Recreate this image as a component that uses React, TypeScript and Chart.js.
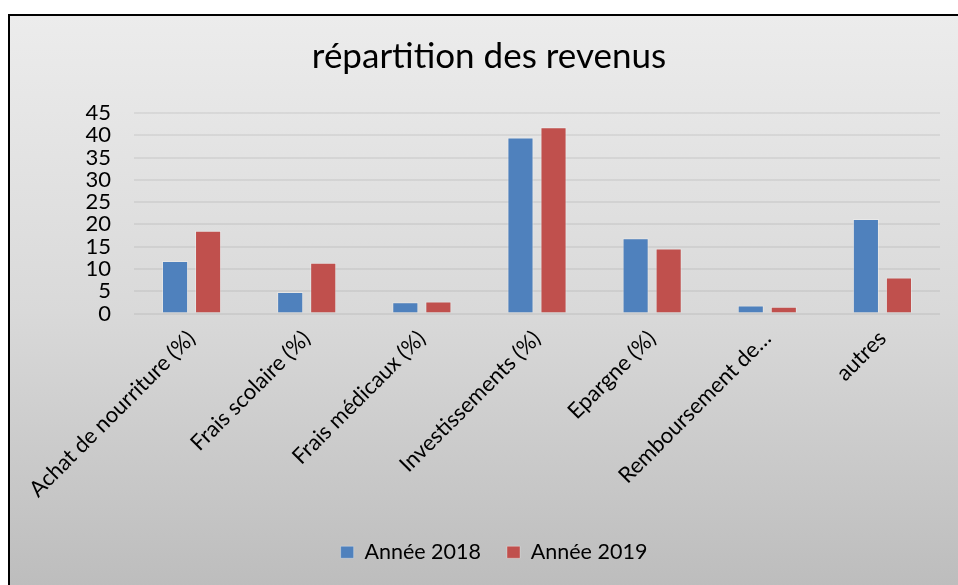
import { useEffect, useRef } from "react";
import { Chart, registerables } from "chart.js";

Chart.register(...registerables);

const categories = [
  "Achat de nourriture (%)",
  "Frais scolaire (%)",
  "Frais médicaux (%)",
  "Investissements (%)",
  "Epargne (%)",
  "Remboursement de…",
  "autres",
];
const annee2018 = [11.8, 4.8, 2.5, 39.5, 16.9, 1.8, 21.2];
const annee2019 = [18.6, 11.4, 2.7, 41.8, 14.6, 1.5, 8.1];
const seriesLabels = ["Année 2018", "Année 2019"];
const titleText = "répartition des revenus";
const yMin = 0;
const yMax = 45;
const yStep = 5;

const FONT = "Lato";

const legendShift = {
  id: "legendShift",
  afterLayout(chart: any) {
    const l = chart.legend;
    if (l) {
      l.left += 5;
      l.right += 5;
    }
  },
};

export default function App() {
  const ref = useRef<HTMLCanvasElement | null>(null);

  useEffect(() => {
    if (!ref.current) return;
    const chart = new Chart(ref.current, {
      type: "bar",
      data: {
        labels: categories,
        datasets: [
          {
            label: seriesLabels[0],
            data: annee2018,
            backgroundColor: "#4F81BD",
            borderColor: "rgba(255,255,255,0.3)",
            borderWidth: 1,
            categoryPercentage: 0.574,
            barPercentage: 0.79,
          },
          {
            label: seriesLabels[1],
            data: annee2019,
            backgroundColor: "#C0504D",
            borderColor: "rgba(255,255,255,0.3)",
            borderWidth: 1,
            categoryPercentage: 0.574,
            barPercentage: 0.79,
          },
        ],
      },
      plugins: [legendShift],
      options: {
        responsive: false,
        animation: false,
        layout: { padding: { left: 10, right: 0, top: 0, bottom: 12 } },
        plugins: {
          title: {
            display: true,
            text: titleText,
            color: "#000",
            font: { family: FONT, size: 35, weight: "normal" },
            padding: { top: 20, bottom: 35 },
          },
          legend: {
            position: "bottom",
            labels: {
              color: "#000",
              font: { family: FONT, size: 21.5 },
              boxWidth: 13,
              boxHeight: 12,
              padding: 26,
            },
          },
          tooltip: { enabled: false },
        },
        scales: {
          x: {
            grid: { display: false },
            border: { display: false },
            ticks: {
              color: "#000",
              font: { family: FONT, size: 22 },
              minRotation: 45,
              maxRotation: 45,
              autoSkip: false,
              padding: 4,
            },
            afterFit: (s: any) => {
              s.height = 202;
            },
          },
          y: {
            min: yMin,
            max: yMax,
            grid: { color: "rgba(0,0,0,0.06)", lineWidth: 2, drawTicks: false },
            border: { display: false },
            ticks: {
              stepSize: yStep,
              autoSkip: false,
              color: "#000",
              font: { family: FONT, size: 22 },
              padding: 23,
            },
            afterFit: (s: any) => {
              s.width = 114;
            },
          },
          yR: {
            type: "linear",
            position: "right",
            display: true,
            grid: { display: false },
            border: { display: false },
            ticks: { display: false },
            afterFit: (s: any) => {
              s.width = 18;
            },
          },
        },
      },
    } as any);
    return () => chart.destroy();
  }, []);

  return (
    <div
      style={{
        position: "absolute",
        left: 8,
        top: 14,
        width: 950,
        height: 571,
        boxSizing: "border-box",
        borderTop: "2px solid #000",
        borderLeft: "2px solid #000",
        background: "linear-gradient(to bottom, #ececec 0%, #d9d9d9 52%, #bdbdbd 100%)",
        overflow: "hidden",
      }}
    >
      <canvas ref={ref} width={948} height={569} style={{ display: "block" }} />
    </div>
  );
}
